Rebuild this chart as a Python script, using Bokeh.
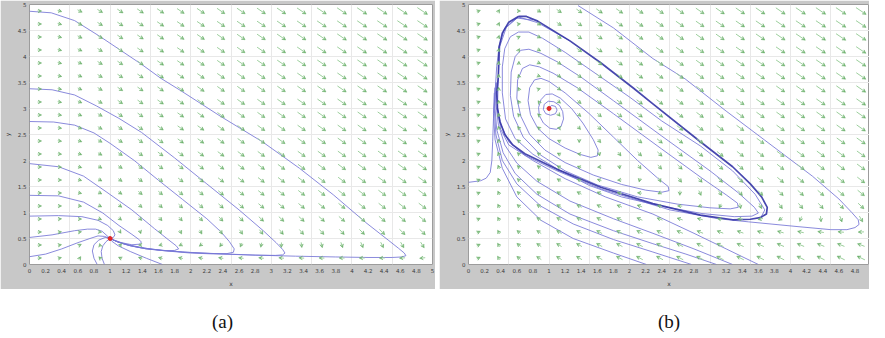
import numpy as np
from bokeh.plotting import figure
from bokeh.models import (ColumnDataSource, Arrow, VeeHead, FixedTicker, Range1d,
                          Div, Spacer, NumeralTickFormatter)
from bokeh.layouts import row, column
from bokeh.embed import file_html
from bokeh.resources import INLINE

# ---------------- data ----------------
# Brusselator model parameters (direction field): dx = a-(b+1)x+x^2 y, dy = b x - x^2 y
PARAM_A = 1.0
PARAM_B_LEFT = 0.5
PARAM_B_RIGHT = 3.0

X_TICKS = [0, 0.2, 0.4, 0.6, 0.8, 1, 1.2, 1.4, 1.6, 1.8, 2, 2.2, 2.4, 2.6, 2.8, 3,
           3.2, 3.4, 3.6, 3.8, 4, 4.2, 4.4, 4.6, 4.8, 5]
Y_TICKS = [0, 0.5, 1, 1.5, 2, 2.5, 3, 3.5, 4, 4.5, 5]
GRID_LINES = [0.5, 1, 1.5, 2, 2.5, 3, 3.5, 4, 4.5]
ARROW_GRID = [0.125, 0.375, 0.625, 0.875, 1.125, 1.375, 1.625, 1.875, 2.125, 2.375,
              2.625, 2.875, 3.125, 3.375, 3.625, 3.875, 4.125, 4.375, 4.625, 4.875]

EQ_LEFT = (1.0, 0.5)
EQ_RIGHT = (1.0, 3.0)

# panel (a) trajectories
a1_x = [0, 0.27, 0.56, 0.87, 1.13, 1.39, 1.63, 1.87, 2.14, 2.38, 2.89, 3.35, 3.77, 4.17, 4.45, 4.58, 4.65, 4.67, 4.62, 4.5, 4.2, 3.8, 3.3, 2.8, 2.3, 1.9, 1.6, 1.35, 1.18, 1.07, 1.0]
a1_y = [4.87, 4.84, 4.69, 4.39, 4.12, 3.85, 3.58, 3.35, 3.08, 2.84, 2.36, 1.85, 1.34, 0.81, 0.47, 0.31, 0.22, 0.17, 0.145, 0.135, 0.135, 0.145, 0.16, 0.18, 0.21, 0.24, 0.28, 0.33, 0.39, 0.45, 0.5]
a2_x = [0, 0.28, 0.56, 0.83, 1.11, 1.39, 1.8, 2.2, 2.6, 2.9, 3.06, 3.14, 3.17, 3.14, 3.05, 2.8, 2.4, 2.0, 1.7, 1.45, 1.25, 1.1, 1.0]
a2_y = [3.38, 3.36, 3.26, 3.05, 2.81, 2.54, 2.05, 1.55, 1.05, 0.65, 0.42, 0.29, 0.22, 0.185, 0.175, 0.18, 0.2, 0.23, 0.265, 0.3, 0.36, 0.43, 0.5]
a3_x = [0, 0.3, 0.56, 0.8, 1.0, 1.3, 1.6, 1.9, 2.2, 2.38, 2.48, 2.54, 2.53, 2.45, 2.25, 2.0, 1.7, 1.45, 1.22, 1.07, 1.0]
a3_y = [2.75, 2.74, 2.68, 2.53, 2.33, 2.0, 1.62, 1.25, 0.88, 0.62, 0.44, 0.3, 0.235, 0.21, 0.205, 0.22, 0.26, 0.31, 0.38, 0.45, 0.5]
a4_x = [0, 0.36, 0.67, 0.95, 1.27, 1.55, 1.72, 1.82, 1.85, 1.8, 1.67, 1.45, 1.25, 1.1, 1.0]
a4_y = [1.94, 1.88, 1.70, 1.40, 1.05, 0.69, 0.48, 0.36, 0.3, 0.27, 0.265, 0.3, 0.36, 0.43, 0.5]
a5_x = [0, 0.36, 0.67, 0.91, 1.11, 1.27, 1.35, 1.39, 1.36, 1.27, 1.14, 1.05, 1.0]
a5_y = [1.33, 1.32, 1.20, 0.99, 0.75, 0.58, 0.49, 0.43, 0.39, 0.38, 0.42, 0.47, 0.5]
a6_x = [0, 0.36, 0.65, 0.85, 0.97, 1.04, 1.06, 1.04, 1.0]
a6_y = [0.93, 0.94, 0.92, 0.85, 0.75, 0.65, 0.57, 0.52, 0.5]
a7_x = [0, 0.28, 0.56, 0.72, 0.82, 0.9, 0.95, 1.0]
a7_y = [0.52, 0.57, 0.65, 0.68, 0.68, 0.64, 0.57, 0.5]
a8_x = [0, 0.2, 0.4, 0.6, 0.75, 0.85, 0.93, 1.0]
a8_y = [0.15, 0.2, 0.3, 0.42, 0.5, 0.55, 0.54, 0.5]
a9_x = [0.84, 0.8, 0.78, 0.8, 0.86, 0.94, 1.0]
a9_y = [0, 0.12, 0.26, 0.38, 0.47, 0.52, 0.5]
a10_x = [0.93, 0.9, 0.89, 0.91, 0.95, 1.0]
a10_y = [0, 0.12, 0.25, 0.36, 0.44, 0.5]
a11_x = [1.65, 1.45, 1.25, 1.1, 1.02, 1.0]
a11_y = [0, 0.12, 0.25, 0.36, 0.45, 0.5]

# panel (b) trajectories
cyc_x = [0.62, 0.72, 0.86, 1.26, 1.65, 2.05, 2.29, 2.88, 3.28, 3.5, 3.64, 3.71, 3.7, 3.62, 3.5, 3.28, 2.88, 2.29, 1.65, 1.1, 0.7, 0.55, 0.45, 0.39, 0.36, 0.35, 0.37, 0.38, 0.42, 0.5, 0.62]
cyc_y = [4.77, 4.77, 4.68, 4.30, 3.87, 3.39, 3.09, 2.36, 1.88, 1.55, 1.3, 1.1, 0.97, 0.9, 0.87, 0.86, 0.95, 1.17, 1.48, 1.83, 2.13, 2.3, 2.5, 2.75, 3.0, 3.3, 3.6, 4.18, 4.45, 4.66, 4.77]
spiral_x = [1.0, 1.03, 1.08, 1.1, 1.08, 1.02, 0.96, 0.93, 0.94, 0.99, 1.06,
            1.13, 1.17, 1.18, 1.15, 1.09, 1.01, 0.93, 0.88, 0.87, 0.9, 0.96, 1.04,
            1.14, 1.28, 1.42, 1.55, 1.61, 1.6, 1.52, 1.38, 1.2, 1.0, 0.86, 0.77, 0.74, 0.76, 0.82, 0.9, 1.0,
            1.2, 1.5, 1.8, 2.1, 2.35, 2.48, 2.49, 2.4, 2.2, 1.9, 1.55, 1.2, 0.95, 0.76, 0.65, 0.6, 0.61, 0.67, 0.76, 0.88, 1.05,
            1.35, 1.8, 2.4, 2.9, 3.2, 3.34, 3.35, 3.25, 3.0, 2.6, 2.1, 1.6, 1.2, 0.9, 0.68, 0.56, 0.52, 0.53, 0.58, 0.65, 0.75, 0.9, 1.1,
            1.4, 1.8, 2.4, 3.0, 3.35, 3.55, 3.6, 3.52, 3.3, 2.9, 2.4, 1.9, 1.5, 1.1, 0.8, 0.58, 0.46, 0.42, 0.42, 0.45, 0.52, 0.62, 0.75, 0.92, 1.2,
            1.6, 2.0, 2.4, 2.88, 3.28, 3.56, 3.68, 3.64]
spiral_y = [3.0, 3.06, 3.04, 2.97, 2.9, 2.87, 2.9, 2.98, 3.08, 3.14, 3.13,
            3.06, 2.94, 2.8, 2.66, 2.6, 2.62, 2.72, 2.86, 3.02, 3.17, 3.27, 3.28,
            3.2, 3.0, 2.72, 2.4, 2.2, 2.09, 2.06, 2.12, 2.24, 2.42, 2.62, 2.88, 3.15, 3.4, 3.55, 3.58, 3.52,
            3.3, 2.9, 2.45, 2.0, 1.66, 1.5, 1.42, 1.39, 1.43, 1.54, 1.72, 1.96, 2.2, 2.5, 2.85, 3.2, 3.55, 3.77, 3.84, 3.8, 3.68,
            3.4, 2.9, 2.22, 1.66, 1.34, 1.18, 1.1, 1.07, 1.09, 1.16, 1.3, 1.53, 1.8, 2.1, 2.45, 2.85, 3.25, 3.7, 4.0, 4.12, 4.14, 4.06, 3.9,
            3.6, 3.15, 2.47, 1.8, 1.38, 1.1, 0.99, 0.93, 0.92, 0.98, 1.12, 1.3, 1.52, 1.84, 2.12, 2.42, 2.8, 3.3, 3.8, 4.15, 4.38, 4.47, 4.47, 4.35, 4.08,
            3.65, 3.22, 2.76, 2.28, 1.8, 1.35, 1.05, 0.93]
out_x = [1.36, 1.8, 2.29, 2.69, 3.2, 3.68, 4.27, 4.6, 4.76, 4.84, 4.85, 4.8, 4.7, 4.5, 4.08, 3.48, 3.1, 2.5, 1.65, 1.1, 0.7, 0.5, 0.4, 0.36, 0.37, 0.39, 0.47, 0.62, 0.86, 1.26]
out_y = [4.98, 4.55, 3.96, 3.57, 2.95, 2.39, 1.70, 1.26, 1.0, 0.86, 0.77, 0.71, 0.67, 0.67, 0.73, 0.82, 0.88, 1.05, 1.45, 1.8, 2.1, 2.36, 2.7, 3.0, 3.6, 4.2, 4.56, 4.76, 4.65, 4.3]
left_x = [0, 0.15, 0.22, 0.27, 0.29, 0.3, 0.31, 0.33, 0.35, 0.38, 0.45, 0.6, 0.8]
left_y = [1.58, 1.61, 1.66, 1.77, 2.0, 2.36, 2.8, 3.3, 3.8, 4.2, 4.55, 4.74, 4.7]
b1_x = [3.6, 3.2, 2.8, 2.29, 1.7, 1.2, 0.8, 0.5, 0.4, 0.36, 0.35]
b1_y = [0, 0.3, 0.6, 0.97, 1.3, 1.65, 2.0, 2.3, 2.6, 3.0, 3.5]
b2_x = [3.28, 2.8, 2.29, 1.8, 1.26, 0.85, 0.6, 0.45, 0.37, 0.34, 0.34]
b2_y = [0, 0.3, 0.6, 0.88, 1.22, 1.6, 1.95, 2.3, 2.7, 3.1, 3.5]
b3_x = [3.08, 2.7, 2.29, 1.8, 1.26, 0.85, 0.58, 0.43, 0.35, 0.33, 0.33]
b3_y = [0, 0.2, 0.4, 0.65, 0.97, 1.35, 1.75, 2.15, 2.6, 3.0, 3.4]
b4_x = [2.77, 2.29, 1.8, 1.3, 0.9, 0.6, 0.42, 0.34, 0.32, 0.33]
b4_y = [0, 0.24, 0.48, 0.78, 1.12, 1.55, 2.0, 2.5, 3.0, 3.4]
b5_x = [2.21, 1.8, 1.3, 0.9, 0.6, 0.42, 0.33, 0.31, 0.32]
b5_y = [0, 0.22, 0.5, 0.85, 1.3, 1.85, 2.4, 2.9, 3.3]

LEFT_TRAJ = [(a1_x, a1_y), (a2_x, a2_y), (a3_x, a3_y), (a4_x, a4_y), (a5_x, a5_y),
             (a6_x, a6_y), (a7_x, a7_y), (a8_x, a8_y), (a9_x, a9_y), (a10_x, a10_y),
             (a11_x, a11_y)]
RIGHT_TRAJ = [(spiral_x, spiral_y), (out_x, out_y), (left_x, left_y), (b1_x, b1_y),
              (b2_x, b2_y), (b3_x, b3_y), (b4_x, b4_y), (b5_x, b5_y)]

# ---------------- styles ----------------
GRAY = "#c8c8c8"
TRAJ = "#7676d6"
CYCLE = "#3434a6"
SHAFT = "#9ccf9c"
HEAD = "#6cb06c"
FONT = "DejaVu Sans"


def make_panel(width, height, lb, rb, tb, bb, xend, b_param, trajs, eq, cycle=None):
    p = figure(width=width, height=height, x_range=Range1d(0, xend), y_range=Range1d(0, 5),
               output_backend="svg", toolbar_location=None,
               min_border_left=lb, min_border_right=rb, min_border_top=tb, min_border_bottom=bb,
               border_fill_color=GRAY, background_fill_color="white",
               outline_line_color="#9c9c9c", outline_line_width=1)
    p.xaxis.ticker = FixedTicker(ticks=X_TICKS)
    p.yaxis.ticker = FixedTicker(ticks=Y_TICKS)
    p.xaxis.formatter = NumeralTickFormatter(format="0.[0]")
    p.yaxis.formatter = NumeralTickFormatter(format="0.[0]")
    p.xaxis.axis_label = "x"
    p.yaxis.axis_label = "y"
    for ax in (p.xaxis, p.yaxis):
        ax.axis_line_color = None
        ax.major_tick_line_color = None
        ax.minor_tick_line_color = None
        ax.major_tick_out = 0
        ax.major_tick_in = 0
        ax.major_label_text_font = FONT
        ax.major_label_text_font_size = "5.5px"
        ax.major_label_text_color = "#3a3a3a"
        ax.major_label_standoff = 3
        ax.axis_label_text_font = FONT
        ax.axis_label_text_font_size = "6px"
        ax.axis_label_text_font_style = "normal"
        ax.axis_label_text_color = "#333333"
        ax.axis_label_standoff = 4
    p.xgrid.ticker = FixedTicker(ticks=GRID_LINES)
    p.ygrid.ticker = FixedTicker(ticks=GRID_LINES)
    p.xgrid.grid_line_color = "#e8e8e8"
    p.ygrid.grid_line_color = "#e8e8e8"

    # direction field (arrows centred on grid nodes)
    fw = width - lb - rb
    fh = height - tb - bb
    sx = fw / xend
    sy = fh / 5.0
    gx, gy = np.meshgrid(np.array(ARROW_GRID), np.array(ARROW_GRID))
    gx = gx.ravel()
    gy = gy.ravel()
    u = PARAM_A - (b_param + 1) * gx + gx ** 2 * gy
    v = b_param * gx - gx ** 2 * gy
    mag = np.hypot(u, v)
    ang = np.arctan2(v * sy, u * sx)
    L = 3.0 + 9.5 * np.log1p(mag) / np.log1p(mag.max())
    hx = 0.5 * L * np.cos(ang) / sx
    hy = 0.5 * L * np.sin(ang) / sy
    src = ColumnDataSource(dict(x0=gx - hx, y0=gy - hy, x1=gx + hx, y1=gy + hy))
    arr = Arrow(x_start="x0", y_start="y0", x_end="x1", y_end="y1", source=src,
                line_color=SHAFT, line_width=1,
                end=VeeHead(size=3.5, line_color=HEAD, fill_color=HEAD, line_width=0.5))
    p.add_layout(arr)

    p.multi_line([t[0] for t in trajs], [t[1] for t in trajs],
                 line_color=TRAJ, line_width=1.0, line_alpha=0.85)
    if cycle is not None:
        p.line(cycle[0], cycle[1], line_color=CYCLE, line_width=1.7, line_alpha=0.9)
    p.scatter([eq[0]], [eq[1]], size=4, color="#e02828")
    return p


fa = make_panel(435, 289, 20, 3, 3, 20, 5.0, PARAM_B_LEFT, LEFT_TRAJ, EQ_LEFT)
fb = make_panel(430, 289, 20, 0, 4, 20, 4.98, PARAM_B_RIGHT, RIGHT_TRAJ, EQ_RIGHT,
                cycle=(cyc_x, cyc_y))


def label_div(txt, w):
    style = (f"width:{w}px;text-align:center;"
             "font-family:'Liberation Serif','DejaVu Serif',serif;"
             "font-size:19px;line-height:20px;padding-top:18px;color:#111;")
    return Div(text=f'<div style="{style}">{txt}</div>', width=w, height=32)


da = label_div("(a)", 435)
db = label_div("(b)", 430)

layout = column(row(fa, Spacer(width=4, height=289), fb),
                row(da, Spacer(width=4, height=32), db))

open("out.html", "w").write(file_html(layout, INLINE))
